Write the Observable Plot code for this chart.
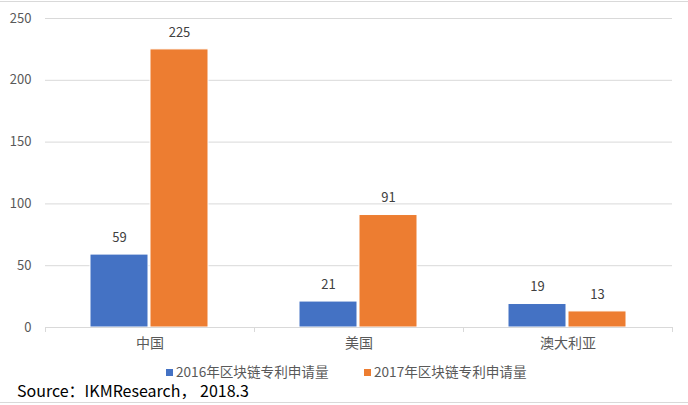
<!DOCTYPE html>
<html>
<head>
<meta charset="utf-8">
<script src="https://cdn.jsdelivr.net/npm/d3@7"></script>
<script src="https://cdn.jsdelivr.net/npm/@observablehq/plot@0.6"></script>
<style>
  html, body { margin: 0; padding: 0; background: #fff; }
  #wrap { position: relative; width: 688px; height: 405px; overflow: hidden; font-family: "Noto Sans CJK SC", "Noto Sans", sans-serif; }
  #topline { position: absolute; left: 0; top: 1px; width: 688px; height: 1px; background: #d9d9d9; }
  #botline { position: absolute; left: 0; top: 402px; width: 688px; height: 1px; background: #d9d9d9; }
  #chart { position: absolute; left: 0; top: 0; }
  #legend { position: absolute; top: 362px; left: 0; width: 688px; height: 18px; font-size: 13.6px; color: #595959; }
  .item { position: absolute; top: 0; line-height: 18px; white-space: nowrap; }
  .sw { display: inline-block; width: 7px; height: 7px; margin-right: 3px; vertical-align: 1px; }
  #source { position: absolute; top: 380px; left: 17px; font-size: 16px; color: #000; line-height: 20px; white-space: nowrap; }
</style>
</head>
<body>
<div id="wrap">
  <div id="topline"></div>
  <div id="chart"></div>
  <div id="legend"></div>
  <div id="source"></div>
  <div id="botline"></div>
</div>
<script>
const categories = ["中国", "美国", "澳大利亚"];
const values2016 = [59, 21, 19];
const values2017 = [225, 91, 13];
const seriesNames = ["2016年区块链专利申请量", "2017年区块链专利申请量"];
const seriesColors = ["#4472C4", "#ED7D31"];
const yTicks = [0, 50, 100, 150, 200, 250];
const sourceText = "Source：IKMResearch， 2018.3";

const data2016 = categories.map((c, i) => ({cat: c, v: values2016[i]}));
const data2017 = categories.map((c, i) => ({cat: c, v: values2017[i]}));

const font = "'Noto Sans CJK SC', 'Noto Sans', sans-serif";

const chart = Plot.plot({
  width: 688,
  height: 360,
  marginLeft: 45,
  marginRight: 16,
  marginTop: 18,
  marginBottom: 33,
  style: {fontFamily: font, background: "transparent"},
  x: {domain: categories, padding: 0, axis: null, label: null},
  y: {domain: [0, 250], axis: null, label: null},
  marks: [
    Plot.gridY(yTicks, {stroke: "#d9d9d9", strokeOpacity: 1, strokeWidth: 1}),
    Plot.axisY(yTicks, {tickSize: 0, tickPadding: 14, fontSize: 13, fill: "#595959", label: null}),
    Plot.barY(data2016, {x: "cat", y: "v", fill: seriesColors[0], insetLeft: 45, insetRight: 106, stroke: "white", strokeWidth: 1}),
    Plot.barY(data2017, {x: "cat", y: "v", fill: seriesColors[1], insetLeft: 105, insetRight: 46, stroke: "white", strokeWidth: 1}),
    Plot.ruleY([0], {stroke: "#d9d9d9", strokeWidth: 1}),
    Plot.axisX(categories, {tickSize: 5, dx: -104.5, stroke: "#d9d9d9", tickFormat: () => "", label: null}),
    Plot.axisX([categories[categories.length - 1]], {tickSize: 5, dx: 104.5, stroke: "#d9d9d9", tickFormat: () => "", label: null}),
    Plot.axisX(categories, {tickSize: 0, tickPadding: 11, fontSize: 14, fill: "#595959", label: null}),
    Plot.text(data2016, {x: "cat", y: "v", text: d => String(d.v), dx: -30.5, dy: -17, fontSize: 13, fill: "#404040"}),
    Plot.text(data2017, {x: "cat", y: "v", text: d => String(d.v), dx: 29.5, dy: -17, fontSize: 13, fill: "#404040"})
  ]
});
document.getElementById("chart").appendChild(chart);

const legend = document.getElementById("legend");
const lefts = [166, 364];
seriesNames.forEach((name, i) => {
  const it = document.createElement("div");
  it.className = "item";
  it.style.left = lefts[i] + "px";
  const sw = document.createElement("span");
  sw.className = "sw";
  sw.style.background = seriesColors[i];
  it.appendChild(sw);
  it.appendChild(document.createTextNode(name));
  legend.appendChild(it);
});
document.getElementById("source").textContent = sourceText;
</script>
</body>
</html>
